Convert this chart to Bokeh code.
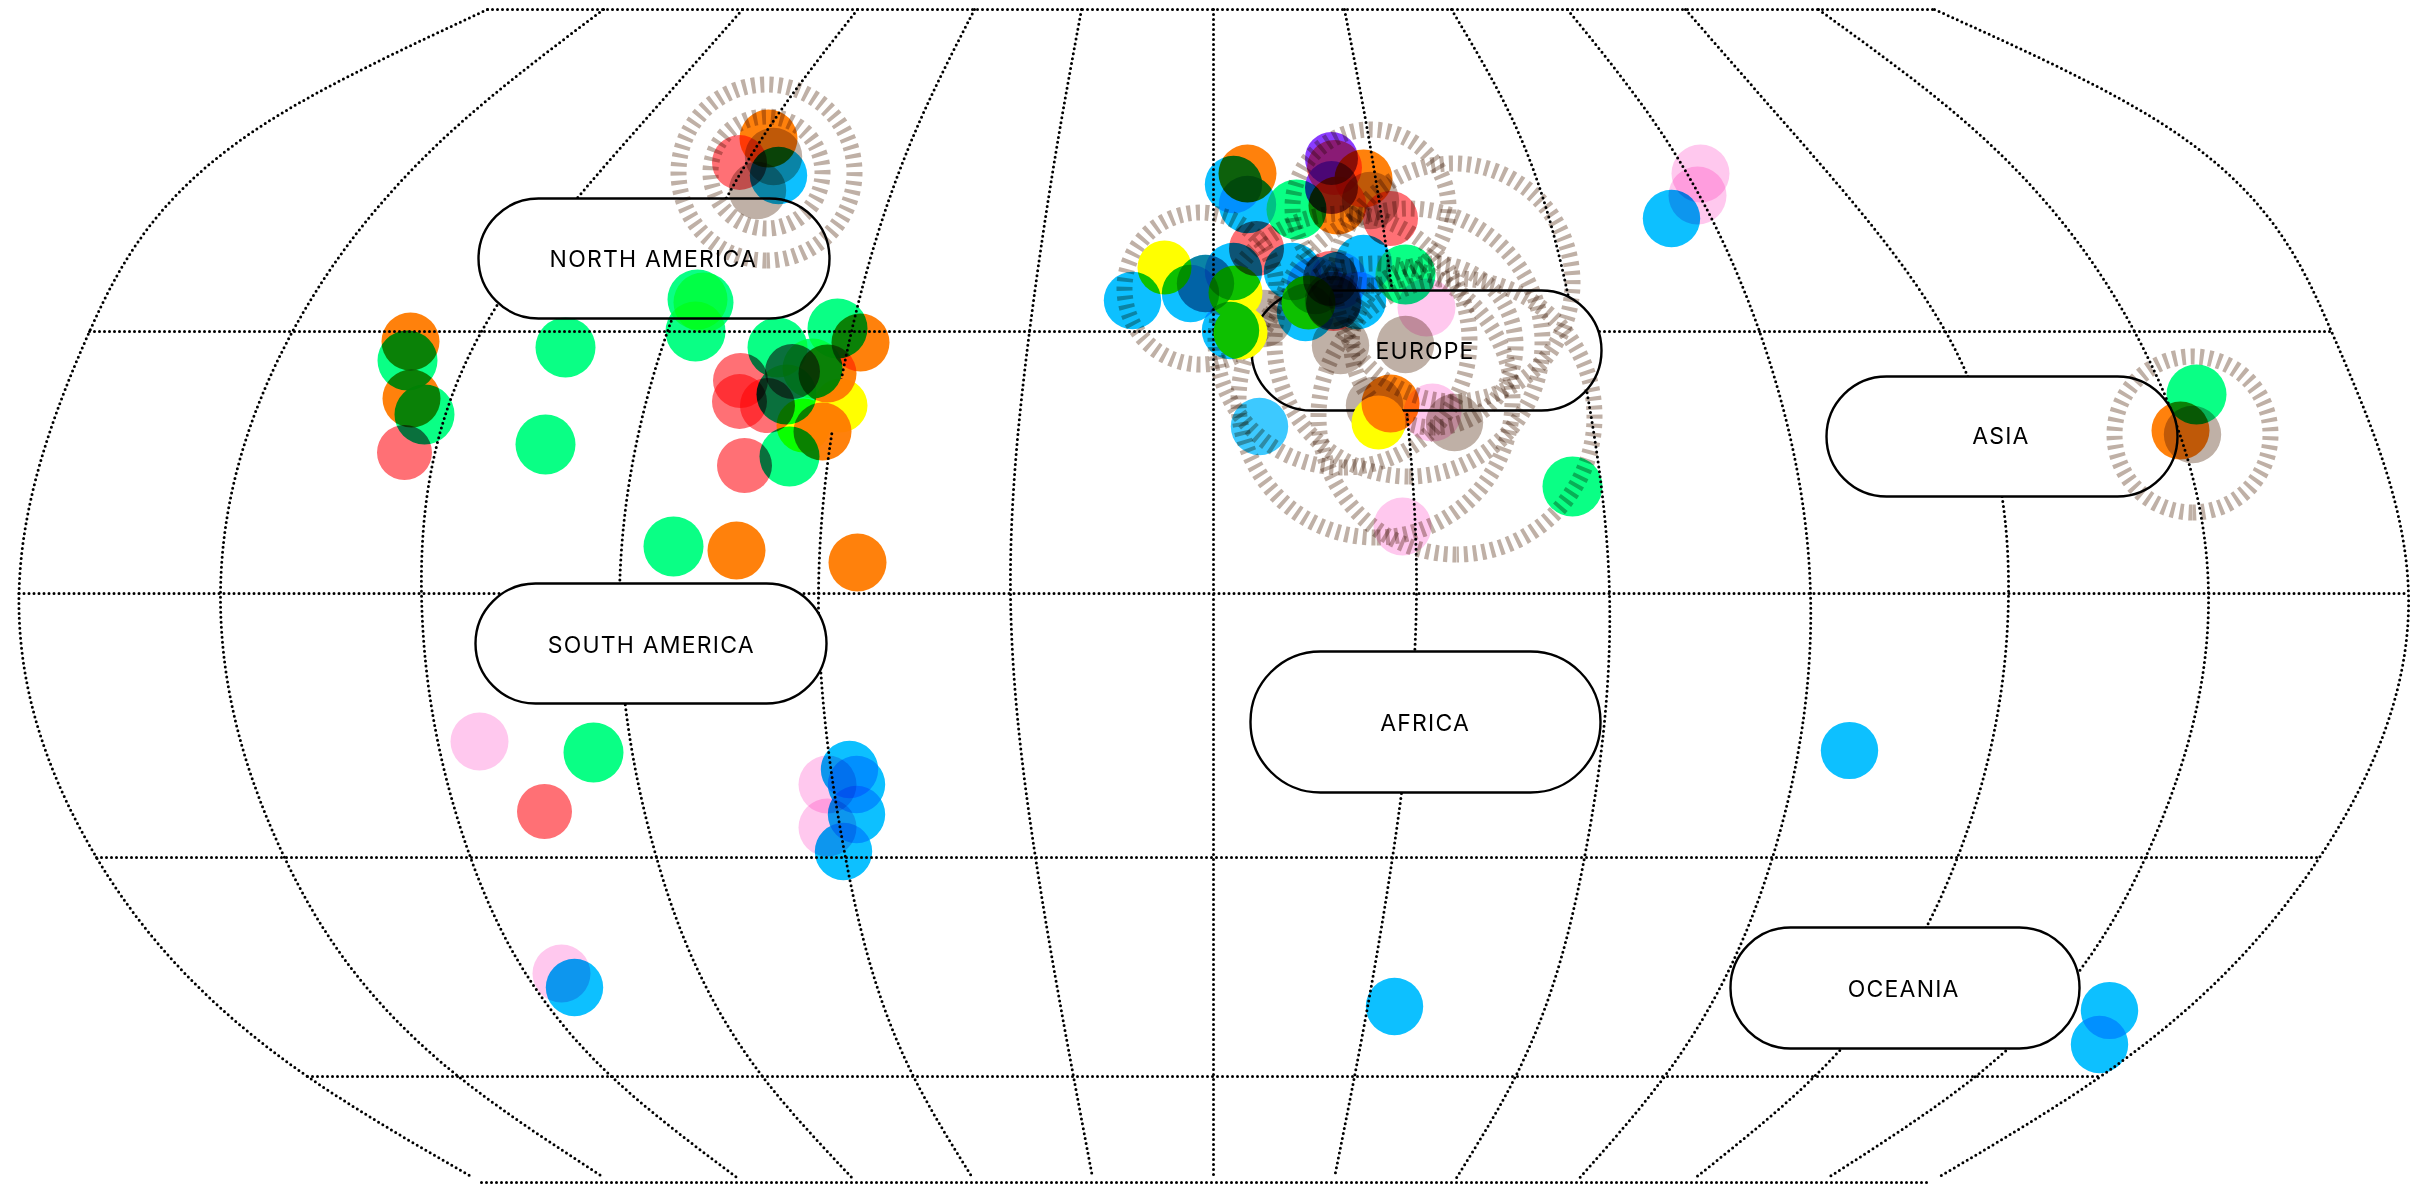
from bokeh.plotting import figure
from bokeh.document import Document
from bokeh.embed import file_html
from bokeh.resources import INLINE
from bokeh.models import CustomJS, Range1d
from bokeh.core.properties import value
import numpy as np
import math

# graticule
lat_y = [9, 331, 593, 857, 1076, 1182]
lat_x0 = [487, 89, 18.5, 96, 307, 481]
lat_x1 = [1934, 2331, 2408, 2319, 2100, 1929]
meridian_y = [9, 119, 331, 593, 857, 1076, 1182]
meridians = [
    [487, 271, 89, 18.5, 96, 307, 481],
    [603, 464, 292, 220, 284, 458, 611],
    [742, 645, 481, 421, 470, 611, 743],
    [857, 774, 667, 619, 656, 762, 856],
    [974, 920, 851, 818, 845, 913, 975],
    [1081, 1061, 1029, 1010, 1035, 1073, 1093],
    [1213, 1213, 1213, 1213, 1213, 1213, 1213],
    [1344, 1365, 1397, 1416, 1392, 1354, 1333],
    [1451, 1512, 1575, 1609, 1584, 1515, 1453],
    [1567, 1652, 1759, 1810, 1772, 1664, 1575],
    [1685, 1781, 1945, 2008, 1957, 1814, 1689],
    [1818, 1962, 2134, 2208, 2145, 1975, 1820],
    [1934, 2155, 2331, 2408, 2319, 2100, 1929],
]

# continents
regions = ["NORTH AMERICA", "SOUTH AMERICA", "EUROPE", "AFRICA", "ASIA", "OCEANIA"]
region_left = [478, 475, 1251, 1250, 1826, 1730]
region_right = [829, 826, 1601, 1600, 2177, 2079]
region_top = [198, 583, 290, 651, 376, 927]
region_bottom = [318, 703, 410, 792, 496, 1048]
label_x = [645, 643, 1421, 1421, 1998, 1899]
label_y = [258, 644, 350, 722, 435, 988]

# rings
ring_x = [766, 766, 2192, 1200, 1370, 1456, 1375, 1408, 1342, 1433, 1453]
ring_y = [172, 172, 434, 288, 207, 416, 400, 342, 340, 345, 282]
ring_r = [88, 56, 78, 76, 78, 138, 137, 134, 127, 82, 119]

# points by category
blue_x = [778, 1233, 1247, 1233, 1292, 1132, 1190, 1205, 1230, 1305, 1338, 1315, 1333, 1363, 1357, 849, 856, 856, 843, 574, 1394, 1849, 1671, 2109, 2099]
blue_y = [175, 184, 204, 271, 271, 300, 293, 283, 330, 312, 280, 285, 300, 263, 300, 769, 784, 814, 851, 987, 1006, 750, 218, 1010, 1044]
light_blue_x = [1259]
light_blue_y = [426]
red_x = [739, 740, 739, 767, 792, 744, 404, 544, 1334, 1390, 1256, 1330, 1333]
red_y = [162, 380, 401, 405, 371, 465, 452, 811, 167, 218, 248, 278, 303]
green_x = [697, 703, 695, 777, 837, 812, 786, 789, 407, 424, 565, 545, 673, 593, 1296, 1405, 1572, 2196]
green_y = [299, 302, 331, 347, 328, 368, 394, 456, 360, 414, 347, 444, 546, 752, 209, 274, 486, 394]
orange_x = [768, 860, 827, 822, 410, 411, 736, 857, 1247, 1363, 1337, 1390, 2180]
orange_y = [138, 342, 373, 431, 341, 398, 550, 562, 173, 178, 205, 403, 430]
yellow_x = [840, 803, 1164, 1235, 1308, 1240, 1378]
yellow_y = [405, 425, 267, 292, 302, 332, 422]
pink_x = [479, 827, 827, 561, 1426, 1432, 1402, 1700, 1697]
pink_y = [741, 784, 827, 973, 307, 412, 526, 173, 195]
purple_x = [1331, 1331]
purple_y = [158, 187]
brown_x = [757, 773, 1370, 1205, 1263, 1332, 1405, 1340, 1374, 1454, 2192]
brown_y = [190, 156, 200, 283, 318, 300, 344, 345, 405, 422, 434]

categories = [
    (brown_x, brown_y, "#BFB0A6", 28.7),
    (pink_x, pink_y, "#FFC8EE", 29),
    (purple_x, purple_y, "#8A3CFF", 26.5),
    (yellow_x, yellow_y, "#FFFF00", 27),
    (orange_x, orange_y, "#FF810C", 29),
    (red_x, red_y, "#FF7075", 27.5),
    (green_x, green_y, "#0AFF85", 30),
    (blue_x, blue_y, "#0DC0FF", 28.7),
    (light_blue_x, light_blue_y, "#3DC9FF", 28.7),
]


def spline(xk, yk, xq):
    """Natural cubic spline through the read points, so a curve passes through them."""
    xk, yk = np.asarray(xk, float), np.asarray(yk, float)
    n = len(xk)
    h = np.diff(xk)
    A = np.zeros((n, n))
    b = np.zeros(n)
    A[0, 0] = A[-1, -1] = 1
    for i in range(1, n - 1):
        A[i, i - 1] = h[i - 1]
        A[i, i] = 2 * (h[i - 1] + h[i])
        A[i, i + 1] = h[i]
        b[i] = 6 * ((yk[i + 1] - yk[i]) / h[i] - (yk[i] - yk[i - 1]) / h[i - 1])
    m = np.linalg.solve(A, b)
    i = np.clip(np.searchsorted(xk, xq) - 1, 0, n - 2)
    t1 = xk[i + 1] - xq
    t0 = xq - xk[i]
    return (m[i] * t1 ** 3 + m[i + 1] * t0 ** 3) / (6 * h[i]) \
        + (yk[i] / h[i] - m[i] * h[i] / 6) * t1 + (yk[i + 1] / h[i] - m[i + 1] * h[i] / 6) * t0


p = figure(width=2426, height=1185, output_backend="svg", toolbar_location=None,
           x_range=Range1d(0, 2426), y_range=Range1d(1185, 0),
           x_axis_location=None, y_axis_location=None, min_border=0)
p.grid.visible = False
p.outline_line_color = None
p.background_fill_color = "white"

DOT = dict(line_color="black", line_width=3, line_dash="0 5", line_cap="round")

for row in meridians:
    ys = np.arange(meridian_y[0], meridian_y[-1] + 1, 8.0)
    p.line(spline(meridian_y, row, ys), ys, **DOT)
for y, a, b in zip(lat_y, lat_x0, lat_x1):
    p.line([a, b], [y, y], **DOT)

for l, r, t, b in zip(region_left, region_right, region_top, region_bottom):
    p.quad(left=[l], right=[r], top=[t], bottom=[b], fill_color="white",
           line_color="black", line_width=2.4, border_radius=(b - t) // 2)

p.arc(ring_x, ring_y, radius=ring_r, start_angle=-math.pi / 2, end_angle=-math.pi / 2 + 0.004,
      direction="clock", line_color="#BFB0A6", line_width=16, line_dash="4 5")

for xs, ys, colour, r in categories:
    p.circle(xs, ys, radius=r, fill_color=colour, line_color=None)

p.text(label_x, label_y, text=regions, text_align="center", text_baseline="middle",
       text_font=value("Inter"), text_font_size="23px", text_color="black")

blend = CustomJS(code="""
function walk(root, out){
  root.querySelectorAll('*').forEach(e=>{
    if(e.shadowRoot) walk(e.shadowRoot,out);
    if(e.tagName && e.tagName.toLowerCase()==='svg') out.push(e);
  });
}
function paint(){
  const svgs=[]; walk(document,svgs);
  svgs.forEach(s=>{
    s.querySelectorAll('path,circle').forEach(e=>{
      const cs=getComputedStyle(e);
      const f=cs.fill, st=cs.stroke;
      const white=c=>/^rgba?\\(255, 255, 255/.test(c);
      const none=c=>c==='none'||/, 0\\)$/.test(c);
      const black=c=>/^rgb\\(0, 0, 0/.test(c);
      const coloured=(!none(f)&&!white(f)&&!black(f))||(!none(st)&&!white(st)&&!black(st));
      if(coloured) e.style.mixBlendMode='multiply';
    });
    s.querySelectorAll('text').forEach(t=>{t.style.letterSpacing='1.2px';});
  });
}
paint();
let n=0; const h=setInterval(()=>{paint(); if(++n>30) clearInterval(h);},100);
""")
doc = Document()
doc.add_root(p)
doc.js_on_event("document_ready", blend)

open("out.html", "w").write(file_html(p, INLINE))
